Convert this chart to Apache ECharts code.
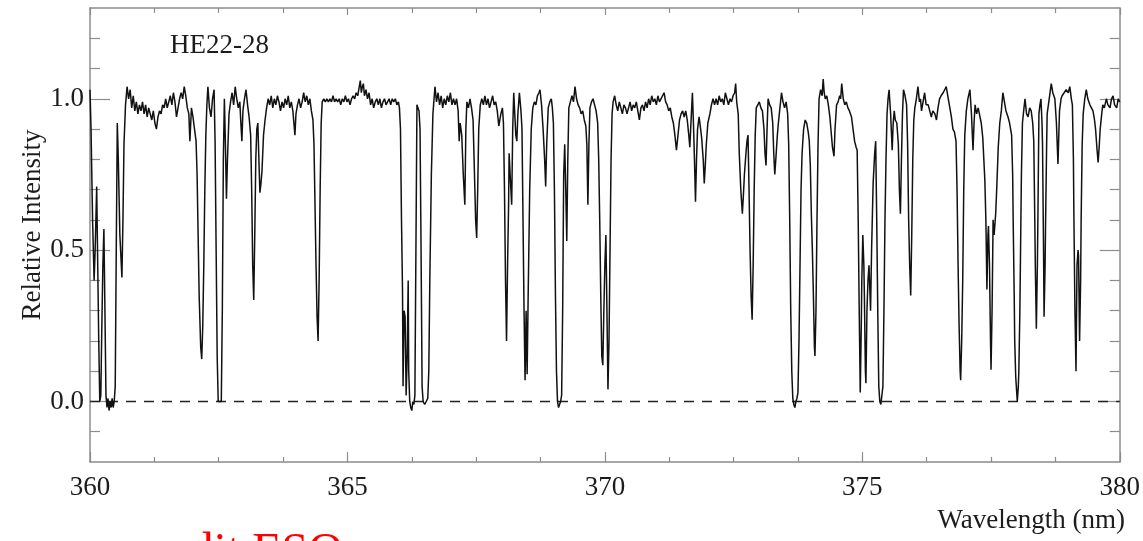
<!DOCTYPE html>
<html>
<head>
<meta charset="utf-8">
<script src="https://cdn.jsdelivr.net/npm/echarts@6/dist/echarts.min.js"></script>
<style>
html,body{margin:0;padding:0;background:#fff;}
#chart{width:1143px;height:541px;}
</style>
</head>
<body>
<div id="chart"></div>
<script>
// ---- data ----
const xTickLabels = [360, 365, 370, 375, 380];
const yMajorTicks = [0, 0.5, 1.0];
const yMinorTicks = [-0.1, 0.1, 0.2, 0.3, 0.4, 0.6, 0.7, 0.8, 0.9, 1.1, 1.2];
const zeroLine = [[360, 0], [380, 0]];
const titleText = 'HE22-28';
const xName = 'Wavelength (nm)';
const yName = 'Relative Intensity';
const creditText = 'credit ESO';

// [wavelength (nm), relative intensity]
const spectrum = [
[360.00,1.03],[360.02,0.90],[360.05,0.60],[360.08,0.40],[360.10,0.50],[360.13,0.71],[360.15,0.45],[360.17,0.20],
[360.19,0.00],[360.21,0.02],[360.23,0.25],[360.25,0.45],[360.27,0.57],[360.29,0.30],[360.31,0.02],[360.33,-0.02],
[360.35,0.01],[360.37,-0.03],[360.39,0.00],[360.41,-0.02],[360.43,0.01],[360.45,-0.02],[360.47,0.00],[360.49,0.05],
[360.51,0.50],[360.53,0.92],[360.55,0.80],[360.58,0.55],[360.62,0.41],[360.64,0.60],[360.66,0.85],[360.69,0.98],
[360.72,1.04],[360.75,1.00],[360.78,1.03],[360.81,0.97],[360.84,1.01],[360.87,0.96],[360.90,0.99],[360.93,0.95],
[360.96,0.98],[360.99,0.96],[361.02,0.99],[361.05,0.95],[361.08,0.98],[361.11,0.94],[361.14,0.97],[361.17,0.95],
[361.20,0.93],[361.23,0.96],[361.26,0.92],[361.29,0.90],[361.32,0.94],[361.35,0.96],[361.38,0.95],[361.41,0.98],
[361.44,0.97],[361.47,1.00],[361.50,0.97],[361.53,0.99],[361.56,1.01],[361.59,0.98],[361.62,1.02],[361.65,0.99],
[361.68,0.94],[361.71,0.97],[361.74,1.00],[361.77,1.02],[361.80,1.00],[361.83,1.04],[361.86,1.01],[361.89,0.97],
[361.92,0.95],[361.94,0.86],[361.97,0.97],[362.00,0.94],[362.03,0.90],[362.06,0.86],[362.08,0.75],[362.10,0.55],
[362.12,0.35],[362.15,0.18],[362.17,0.14],[362.19,0.25],[362.21,0.45],[362.23,0.70],[362.25,0.88],[362.27,0.98],
[362.29,1.04],[362.32,0.97],[362.35,0.94],[362.38,1.00],[362.41,1.03],[362.43,0.85],[362.45,0.50],[362.47,0.15],
[362.49,0.00],[362.52,0.00],[362.55,0.00],[362.57,0.30],[362.59,0.80],[362.61,1.00],[362.63,0.85],[362.65,0.67],
[362.67,0.80],[362.70,0.95],[362.73,0.99],[362.76,1.02],[362.79,0.98],[362.82,1.04],[362.85,1.00],[362.88,0.97],
[362.91,0.99],[362.93,0.92],[362.95,0.86],[362.97,0.96],[363.00,1.00],[363.03,1.03],[363.06,0.98],[363.09,0.94],
[363.12,0.88],[363.14,0.70],[363.16,0.45],[363.18,0.335],[363.20,0.55],[363.22,0.80],[363.24,0.90],[363.26,0.92],
[363.28,0.80],[363.30,0.69],[363.32,0.72],[363.34,0.76],[363.37,0.88],[363.40,0.93],[363.43,0.97],[363.46,1.00],
[363.49,0.98],[363.52,1.01],[363.55,0.97],[363.58,1.00],[363.61,0.98],[363.64,1.01],[363.67,0.99],[363.70,0.96],
[363.73,0.99],[363.76,0.97],[363.79,1.00],[363.82,0.98],[363.85,1.01],[363.88,0.97],[363.91,0.99],[363.94,0.96],
[363.96,0.92],[363.98,0.88],[364.00,0.95],[364.03,0.98],[364.06,1.00],[364.09,0.97],[364.12,0.99],[364.15,1.02],
[364.18,0.99],[364.21,1.01],[364.24,0.98],[364.27,1.00],[364.30,0.96],[364.33,0.93],[364.35,0.85],[364.37,0.65],
[364.39,0.45],[364.41,0.28],[364.43,0.20],[364.45,0.40],[364.47,0.70],[364.49,0.92],[364.51,0.99],[364.54,1.00],
[364.57,0.99],[364.60,1.00],[364.63,0.99],[364.66,1.00],[364.69,0.99],[364.72,1.01],[364.75,0.99],[364.78,1.00],
[364.81,0.99],[364.84,1.00],[364.87,0.98],[364.90,1.00],[364.93,0.99],[364.96,1.01],[364.99,0.99],[365.02,1.00],
[365.05,0.98],[365.08,1.00],[365.11,1.01],[365.14,1.00],[365.17,1.02],[365.20,1.01],[365.23,1.04],[365.25,1.06],
[365.27,1.02],[365.29,1.04],[365.31,1.05],[365.33,1.01],[365.36,1.03],[365.39,1.00],[365.42,1.02],[365.45,0.98],
[365.48,1.00],[365.51,0.97],[365.54,0.99],[365.57,1.00],[365.60,0.98],[365.63,1.00],[365.66,0.97],[365.69,0.99],
[365.72,1.00],[365.75,0.98],[365.78,0.99],[365.81,1.00],[365.84,0.98],[365.87,1.00],[365.90,0.99],[365.93,1.00],
[365.96,0.98],[365.99,0.99],[366.01,0.97],[366.03,0.90],[366.05,0.60],[366.07,0.36],[366.08,0.05],[366.10,0.30],
[366.12,0.28],[366.14,0.02],[366.16,0.15],[366.18,0.40],[366.19,0.10],[366.21,0.00],[366.23,-0.02],[366.25,-0.03],
[366.27,0.00],[366.29,-0.01],[366.31,0.02],[366.33,0.50],[366.35,0.98],[366.37,0.97],[366.39,0.96],[366.41,0.90],
[366.43,0.50],[366.45,0.05],[366.47,0.00],[366.50,-0.01],[366.53,0.00],[366.56,0.01],[366.58,0.10],[366.60,0.40],
[366.63,0.75],[366.66,0.95],[366.70,1.04],[366.73,0.99],[366.76,1.02],[366.79,0.98],[366.82,1.01],[366.85,0.97],
[366.88,1.00],[366.91,0.98],[366.94,1.01],[366.97,0.99],[367.00,1.02],[367.03,0.98],[367.06,1.00],[367.09,0.98],
[367.12,1.00],[367.15,0.96],[367.17,0.86],[367.19,0.92],[367.22,0.88],[367.25,0.75],[367.28,0.65],[367.30,0.90],
[367.32,0.99],[367.35,0.97],[367.38,1.00],[367.41,0.97],[367.44,0.93],[367.46,0.80],[367.49,0.60],[367.51,0.54],
[367.53,0.70],[367.55,0.90],[367.58,0.98],[367.61,1.00],[367.64,0.98],[367.67,1.01],[367.70,0.98],[367.73,1.00],
[367.76,0.97],[367.79,0.99],[367.82,1.01],[367.85,0.98],[367.88,0.99],[367.91,0.96],[367.94,0.91],[367.96,0.905],
[367.98,0.95],[368.01,0.97],[368.03,0.92],[368.05,0.70],[368.07,0.40],[368.09,0.20],[368.11,0.45],[368.13,0.65],
[368.14,0.82],[368.16,0.75],[368.19,0.65],[368.21,0.90],[368.23,1.02],[368.25,0.95],[368.27,0.88],[368.29,0.86],
[368.31,0.95],[368.34,1.02],[368.37,0.96],[368.39,0.90],[368.41,0.60],[368.43,0.30],[368.45,0.07],[368.47,0.30],
[368.49,0.09],[368.51,0.35],[368.54,0.70],[368.57,0.90],[368.60,0.97],[368.63,0.99],[368.66,0.98],[368.69,1.01],
[368.72,1.02],[368.74,1.03],[368.77,0.98],[368.80,0.90],[368.83,0.80],[368.85,0.71],[368.87,0.85],[368.90,0.97],
[368.93,0.99],[368.96,1.00],[368.98,0.97],[369.00,0.92],[369.02,0.70],[369.04,0.35],[369.06,0.10],[369.08,0.00],
[369.10,-0.02],[369.12,-0.01],[369.14,0.00],[369.16,0.02],[369.18,0.30],[369.20,0.75],[369.22,0.85],[369.24,0.70],
[369.26,0.53],[369.28,0.80],[369.30,0.97],[369.33,0.99],[369.36,1.01],[369.39,0.99],[369.42,1.04],[369.45,1.00],
[369.48,0.98],[369.51,0.97],[369.54,0.95],[369.57,0.96],[369.60,0.93],[369.63,0.91],[369.65,0.85],[369.67,0.65],
[369.69,0.85],[369.71,0.97],[369.74,0.99],[369.77,1.00],[369.80,0.98],[369.83,0.96],[369.86,0.92],[369.88,0.80],
[369.90,0.60],[369.92,0.35],[369.94,0.15],[369.96,0.12],[369.98,0.30],[370.00,0.45],[370.02,0.55],[370.04,0.30],
[370.06,0.04],[370.08,0.20],[370.10,0.50],[370.12,0.80],[370.14,0.95],[370.16,0.99],[370.19,1.01],[370.22,0.98],
[370.25,0.96],[370.28,0.99],[370.31,0.97],[370.34,0.95],[370.37,0.98],[370.40,0.97],[370.43,0.95],[370.46,0.97],
[370.49,0.99],[370.52,0.96],[370.55,0.98],[370.58,0.97],[370.61,0.99],[370.64,0.96],[370.67,0.93],[370.70,0.97],
[370.73,0.98],[370.76,0.96],[370.79,0.99],[370.82,0.97],[370.85,1.00],[370.88,0.98],[370.91,1.01],[370.94,0.99],
[370.97,1.00],[371.00,0.98],[371.03,1.01],[371.06,0.99],[371.09,1.00],[371.12,1.01],[371.15,1.02],[371.18,0.99],
[371.21,0.98],[371.24,0.96],[371.27,0.97],[371.30,0.94],[371.33,0.92],[371.36,0.88],[371.39,0.83],[371.42,0.88],
[371.45,0.93],[371.48,0.95],[371.51,0.96],[371.54,0.94],[371.57,0.96],[371.60,0.93],[371.63,0.88],[371.65,0.84],
[371.68,0.95],[371.70,1.02],[371.72,0.92],[371.74,0.80],[371.76,0.66],[371.78,0.80],[371.80,0.90],[371.83,0.94],
[371.86,0.90],[371.88,0.87],[371.91,0.80],[371.93,0.72],[371.95,0.78],[371.97,0.85],[372.00,0.92],[372.04,0.95],
[372.07,0.98],[372.10,1.00],[372.13,0.98],[372.16,1.00],[372.19,0.98],[372.22,1.01],[372.25,0.99],[372.28,1.00],
[372.31,0.98],[372.34,1.02],[372.37,1.00],[372.40,0.98],[372.43,1.00],[372.46,0.99],[372.49,1.01],[372.52,1.02],
[372.54,1.05],[372.56,0.99],[372.59,0.95],[372.61,0.82],[372.64,0.70],[372.67,0.62],[372.69,0.68],[372.71,0.75],
[372.74,0.82],[372.76,0.86],[372.78,0.88],[372.80,0.70],[372.82,0.50],[372.84,0.35],[372.86,0.27],[372.88,0.45],
[372.90,0.70],[372.92,0.88],[372.94,0.97],[372.97,0.98],[373.00,0.99],[373.03,0.97],[373.06,0.96],[373.09,0.90],
[373.11,0.82],[373.13,0.78],[373.15,0.90],[373.17,1.00],[373.20,0.98],[373.23,0.97],[373.26,0.92],[373.28,0.82],
[373.30,0.75],[373.32,0.80],[373.35,0.88],[373.37,0.92],[373.40,0.97],[373.43,1.02],[373.46,0.99],[373.49,0.97],
[373.52,0.99],[373.55,0.95],[373.57,0.85],[373.59,0.60],[373.61,0.30],[373.63,0.10],[373.65,0.01],[373.67,-0.01],
[373.69,-0.02],[373.71,0.00],[373.73,0.01],[373.75,0.03],[373.77,0.20],[373.79,0.45],[373.81,0.70],[373.83,0.82],
[373.86,0.90],[373.89,0.93],[373.92,0.92],[373.95,0.89],[373.97,0.86],[373.99,0.78],[374.01,0.62],[374.03,0.50],
[374.05,0.35],[374.07,0.18],[374.08,0.15],[374.10,0.30],[374.12,0.60],[374.14,0.85],[374.16,1.00],[374.19,1.03],
[374.22,1.01],[374.24,1.065],[374.26,1.02],[374.28,1.00],[374.31,1.01],[374.34,0.98],[374.37,0.94],[374.40,0.88],
[374.42,0.84],[374.45,0.81],[374.47,0.90],[374.50,0.98],[374.53,0.99],[374.56,1.01],[374.58,1.00],[374.60,1.05],
[374.63,1.00],[374.66,0.98],[374.69,0.99],[374.72,0.97],[374.75,0.96],[374.79,0.94],[374.82,0.90],[374.85,0.86],
[374.88,0.84],[374.90,0.83],[374.92,0.60],[374.94,0.30],[374.96,0.03],[374.98,0.25],[374.99,0.40],[375.01,0.55],
[375.03,0.45],[375.04,0.35],[375.06,0.10],[375.07,0.06],[375.09,0.30],[375.11,0.40],[375.13,0.45],[375.15,0.35],
[375.16,0.30],[375.18,0.50],[375.21,0.72],[375.24,0.82],[375.26,0.86],[375.28,0.60],[375.30,0.30],[375.32,0.05],
[375.34,0.00],[375.36,-0.01],[375.38,-0.01],[375.40,0.05],[375.42,0.30],[375.44,0.60],[375.46,0.80],[375.48,0.95],
[375.50,1.00],[375.52,1.03],[375.55,0.95],[375.58,0.83],[375.60,0.92],[375.62,0.96],[375.64,0.93],[375.67,0.92],
[375.70,0.85],[375.72,0.70],[375.74,0.62],[375.76,0.80],[375.78,0.95],[375.80,1.03],[375.83,1.01],[375.86,0.98],
[375.88,0.85],[375.90,0.60],[375.92,0.45],[375.94,0.35],[375.96,0.55],[375.98,0.80],[376.00,0.93],[376.02,0.97],
[376.05,1.00],[376.08,1.04],[376.11,0.99],[376.13,1.00],[376.15,0.96],[376.18,0.99],[376.21,1.02],[376.24,0.98],
[376.28,0.98],[376.31,0.96],[376.34,0.94],[376.37,0.96],[376.41,0.95],[376.44,0.93],[376.47,0.97],[376.50,1.00],
[376.53,1.01],[376.57,1.02],[376.60,1.03],[376.63,1.04],[376.66,1.01],[376.70,0.97],[376.73,0.94],[376.76,0.90],
[376.79,0.89],[376.82,0.86],[376.84,0.70],[376.86,0.45],[376.88,0.25],[376.90,0.10],[376.91,0.07],[376.93,0.20],
[376.95,0.40],[376.97,0.70],[376.99,0.88],[377.02,0.96],[377.05,1.00],[377.09,1.03],[377.12,0.95],[377.15,0.83],
[377.17,0.92],[377.19,0.98],[377.22,0.95],[377.25,0.97],[377.28,0.97],[377.31,0.92],[377.34,0.87],[377.36,0.80],
[377.38,0.73],[377.40,0.60],[377.42,0.37],[377.44,0.55],[377.45,0.58],[377.47,0.45],[377.49,0.20],[377.50,0.105],
[377.52,0.30],[377.54,0.60],[377.56,0.55],[377.59,0.62],[377.61,0.70],[377.64,0.84],[377.67,0.92],[377.70,0.96],
[377.73,1.02],[377.76,0.99],[377.79,0.96],[377.83,0.94],[377.86,0.92],[377.90,0.88],[377.92,0.75],[377.93,0.60],
[377.95,0.35],[377.96,0.20],[377.98,0.08],[378.01,0.00],[378.03,0.05],[378.04,0.10],[378.06,0.30],[378.07,0.45],
[378.09,0.75],[378.11,0.92],[378.14,0.97],[378.16,1.00],[378.19,0.95],[378.22,0.94],[378.25,0.97],[378.28,0.96],
[378.31,0.92],[378.33,0.86],[378.35,0.60],[378.36,0.45],[378.38,0.24],[378.40,0.45],[378.41,0.60],[378.43,0.95],
[378.45,0.98],[378.47,1.00],[378.49,0.92],[378.50,0.85],[378.52,0.50],[378.53,0.28],[378.55,0.45],[378.56,0.60],
[378.58,0.85],[378.59,0.95],[378.63,1.00],[378.67,1.05],[378.70,1.02],[378.74,1.00],[378.77,0.92],[378.80,0.785],
[378.83,0.96],[378.86,1.00],[378.88,1.01],[378.92,1.02],[378.96,1.03],[379.00,1.02],[379.03,1.04],[379.06,1.00],
[379.08,0.98],[379.10,0.80],[379.11,0.60],[379.13,0.30],[379.15,0.10],[379.17,0.45],[379.19,0.50],[379.20,0.48],
[379.22,0.20],[379.24,0.40],[379.25,0.60],[379.27,0.85],[379.29,0.95],[379.32,1.00],[379.35,1.03],[379.38,1.00],
[379.42,0.98],[379.45,0.97],[379.48,0.96],[379.51,0.93],[379.53,0.90],[379.56,0.83],[379.58,0.79],[379.60,0.84],
[379.62,0.90],[379.65,0.95],[379.67,0.98],[379.70,0.97],[379.74,1.00],[379.77,0.98],[379.81,0.97],[379.84,1.00],
[379.87,1.01],[379.90,0.98],[379.94,0.97],[379.97,1.00],[380.00,0.99]
];

// ---- chart ----
const FONT = '"Liberation Serif", "DejaVu Serif", serif';
const AXIS_COLOR = '#8c8c8c';
const TEXT_COLOR = '#1c1c1c';

function yAxisDef(position, ticks, len, withLine, withLabels) {
  return {
    type: 'value', position: position, min: -0.2, max: 1.3,
    splitLine: {show: false},
    axisLine: {show: withLine, onZero: false, lineStyle: {color: AXIS_COLOR, width: 1.5}},
    axisTick: {show: true, inside: true, length: len, customValues: ticks,
               lineStyle: {color: AXIS_COLOR, width: 1.2}},
    axisLabel: withLabels ? {
      show: true, customValues: yMajorTicks, margin: 6,
      formatter: v => Number(v).toFixed(1),
      color: TEXT_COLOR, fontFamily: FONT, fontSize: 27
    } : {show: false}
  };
}

function xAxisDef(position, withLabels) {
  return {
    type: 'value', position: position, min: xTickLabels[0], max: xTickLabels[xTickLabels.length - 1], interval: 5,
    splitLine: {show: false},
    axisLine: {show: true, onZero: false, lineStyle: {color: AXIS_COLOR, width: 1.5}},
    axisTick: {show: true, inside: true, length: position === 'top' ? 7 : 10, lineStyle: {color: AXIS_COLOR, width: 1.2}},
    minorTick: {show: true, splitNumber: 4, length: 5, lineStyle: {color: AXIS_COLOR, width: 1.2}},
    axisLabel: withLabels ? {show: true, margin: 12, color: TEXT_COLOR, fontFamily: FONT, fontSize: 27} : {show: false}
  };
}

const chart = echarts.init(document.getElementById('chart'), null, {renderer: 'canvas'});
chart.setOption({
  animation: false,
  backgroundColor: '#ffffff',
  grid: {left: 90, right: 22, top: 8, bottom: 79, containLabel: false},
  xAxis: [xAxisDef('bottom', true), xAxisDef('top', false)],
  yAxis: [
    yAxisDef('left', yMajorTicks, 20, true, true),
    yAxisDef('left', yMinorTicks, 10, false, false),
    yAxisDef('right', yMajorTicks, 20, true, false),
    yAxisDef('right', yMinorTicks, 10, false, false)
  ],
  series: [
    {
      type: 'line', xAxisIndex: 0, yAxisIndex: 0, data: zeroLine,
      showSymbol: false, symbol: 'none', silent: true,
      lineStyle: {color: '#222', width: 1.6, type: [10, 8]}
    },
    {
      type: 'line', xAxisIndex: 0, yAxisIndex: 0, data: spectrum,
      showSymbol: false, symbol: 'none', silent: true,
      lineStyle: {color: '#111', width: 1.5}
    }
  ],
  graphic: [
    {type: 'text', left: 170, top: 32, style: {text: titleText, font: '27px ' + FONT, fill: TEXT_COLOR}},
    {type: 'text', x: 33, y: 225, rotation: Math.PI / 2,
     style: {text: yName, font: '27px ' + FONT, fill: TEXT_COLOR, align: 'center', verticalAlign: 'middle'}},
    {type: 'text', x: 1125, y: 521,
     style: {text: xName, font: '27px ' + FONT, fill: TEXT_COLOR, align: 'right', verticalAlign: 'middle'}},
    {type: 'text', x: 131, y: 553,
     style: {text: creditText, font: '48px ' + FONT, fill: '#ff0000', align: 'left', verticalAlign: 'middle'}}
  ]
});
</script>
</body>
</html>
